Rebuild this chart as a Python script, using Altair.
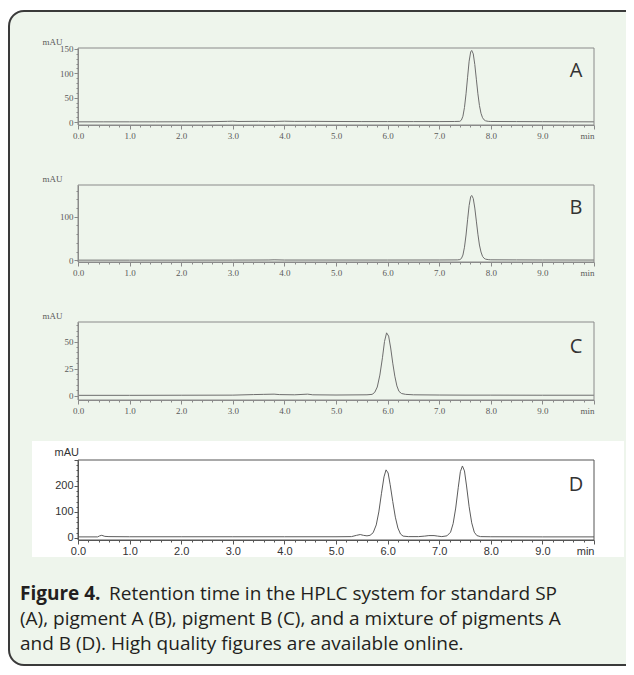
import altair as alt
import pandas as pd

# ---------------- data ----------------
A_T = [0.0, 0.5, 1.0, 1.5, 2.0, 2.5, 2.9, 3.0, 3.1, 3.5, 3.8, 4.0, 4.2, 4.5, 5.0, 5.5, 6.0, 6.5, 7.0, 7.3,
       7.40, 7.43, 7.46, 7.49, 7.52, 7.55, 7.58, 7.61, 7.63, 7.66, 7.69, 7.72, 7.75, 7.78, 7.81, 7.84, 7.87,
       7.90, 7.95, 8.0, 8.5, 9.0, 9.5, 10.0]
A_Y = [0.5, 0.5, 0.5, 0.5, 0.6, 0.7, 1.5, 1.8, 1.2, 1.5, 1.2, 1.8, 1.4, 1.5, 1.2, 1.0, 1.0, 1.0, 1.0, 1.2,
       1.5, 4, 12, 30, 58, 92, 125, 144, 147, 140, 118, 88, 58, 34, 18, 9, 4.5,
       2.5, 1.5, 1.2, 1.0, 0.8, 0.6, 0.5]

B_T = [0.0, 1.0, 2.0, 3.0, 3.7, 3.8, 4.0, 5.0, 6.0, 7.0, 7.35,
       7.40, 7.43, 7.46, 7.49, 7.52, 7.55, 7.58, 7.61, 7.63, 7.66, 7.69, 7.72, 7.75, 7.78, 7.81, 7.84, 7.87,
       7.90, 7.95, 8.0, 8.5, 9.0, 10.0]
B_Y = [0.3, 0.3, 0.3, 0.4, 0.6, 1.0, 0.5, 0.5, 0.5, 0.6, 0.8,
       1.5, 4, 12, 30, 58, 93, 126, 146, 149, 142, 120, 90, 60, 35, 19, 9, 4.5,
       2.5, 1.5, 1.0, 0.8, 0.6, 0.5]

C_T = [0.0, 1.0, 2.0, 3.0, 3.4, 3.6, 3.8, 3.9, 4.2, 4.45, 4.55, 5.0, 5.6,
       5.70, 5.75, 5.80, 5.85, 5.90, 5.94, 5.98, 6.02, 6.06, 6.10, 6.14, 6.18, 6.22, 6.27,
       6.35, 6.5, 7.0, 7.5, 8.0, 9.0, 10.0]
C_Y = [0.3, 0.3, 0.4, 0.5, 1.0, 1.2, 1.4, 1.0, 0.8, 1.4, 0.8, 0.6, 0.8,
       1.2, 3, 8, 19, 35, 50, 58, 55, 44, 30, 18, 9, 4, 2,
       1.2, 0.8, 0.6, 0.5, 0.5, 0.4, 0.4]

D_T = [0.0, 0.38, 0.42, 0.46, 0.52, 0.6, 1.0, 2.0, 3.0, 4.0, 5.0, 5.3, 5.40, 5.47, 5.53, 5.60, 5.66,
       5.72, 5.78, 5.83, 5.88, 5.93, 5.97, 6.01, 6.05, 6.10, 6.15, 6.20, 6.25, 6.30, 6.4, 6.6,
       6.72, 6.80, 6.90, 6.97, 7.05, 7.15, 7.22, 7.27, 7.32, 7.37, 7.41, 7.45, 7.49, 7.53, 7.58,
       7.63, 7.68, 7.73, 7.80, 8.0, 9.0, 10.0]
D_Y = [4, 4, 8, 10, 6, 5, 4.5, 4.5, 4.5, 4.5, 4.5, 5, 10, 13, 10, 8, 10,
       20, 50, 100, 170, 235, 262, 250, 205, 140, 80, 38, 15, 7, 5, 5,
       7, 9, 9, 7, 5, 8, 22, 55, 115, 195, 255, 277, 258, 200, 120,
       58, 22, 9, 5, 4.5, 4, 4]

X_TICKS = [round(i * 0.2, 1) for i in range(51)]
A_YTICKS = list(range(0, 151, 10))
B_YTICKS = list(range(0, 161, 20))
C_YTICKS = list(range(0, 66, 5))
D_YTICKS = list(range(0, 301, 20))

CAPTION_BOLD = "Figure 4."
CAPTION_1 = "Retention time in the HPLC system for standard SP"
CAPTION_2 = "(A), pigment A (B), pigment B (C), and a mixture of pigments A"
CAPTION_3 = "and B (D). High quality figures are available online."

W = 516
GREEN = "#eef5ec"
ONE = pd.DataFrame({"k": [0]})

MAJOR_X = "abs(datum.value - round(datum.value)) < 0.01"


def panel(t, v, ydom, yticks, ymajor, ylabmax, height, letter, sans=False, extra_before=None, extra_after=None):
    font = "Liberation Sans" if sans else "Liberation Serif"
    fsize = 11 if sans else 9
    lcol = "#333333" if sans else "#5a5a5a"
    acol = "#555555" if sans else "#8a8a8a"
    df = pd.DataFrame({"t": t, "v": v})
    xaxis = alt.Axis(
        values=X_TICKS, title=None, grid=False, zindex=1,
        labelExpr=MAJOR_X + " ? (datum.value >= 9.99 ? 'min' : format(datum.value, '.1f')) : ''",
        labelOverlap=False, labelFlush=False,
        labelAlign={"condition": {"test": "datum.value >= 9.99", "value": "right"}, "value": "center"},
        tickSize={"condition": {"test": MAJOR_X, "value": 4}, "value": 2},
        tickColor=acol, domainColor=acol, labelFont=font, labelFontSize=fsize, labelColor=lcol,
        labelPadding=2 if not sans else 1,
    )
    ytest = "datum.value % " + str(ymajor) + " == 0 && datum.value <= " + str(ylabmax)
    yaxis = alt.Axis(
        values=yticks, title="mAU", grid=False, zindex=1,
        labelExpr=ytest + " ? format(datum.value, 'd') : ''",
        labelOverlap=False, labelFlush=False,
        tickSize={"condition": {"test": "datum.value % " + str(ymajor) + " == 0", "value": 4}, "value": 2},
        tickColor=acol, domainColor=acol, labelFont=font, labelFontSize=fsize, labelColor=lcol,
        labelPadding=1,
        titleAngle=0, titleAlign="left", titleBaseline="middle",
        titleX=-36 if not sans else -24, titleY=-7 if not sans else -8,
        titleFont=font, titleFontSize=fsize, titleFontWeight="normal", titleColor=lcol,
    )
    line = alt.Chart(df).mark_line(color="#6e6e6e" if not sans else "#5c5c5c", strokeWidth=1.0, clip=True).encode(
        x=alt.X("t:Q", scale=alt.Scale(domain=[0, 10], nice=False, zero=False), axis=xaxis),
        y=alt.Y("v:Q", scale=alt.Scale(domain=ydom, nice=False, zero=False), axis=yaxis),
    )
    frame = alt.Chart(ONE).mark_rect(fill="transparent", stroke=acol, strokeWidth=1).encode(
        x=alt.value(0), x2=alt.value(W), y=alt.value(0), y2=alt.value(height)
    )
    lab = alt.Chart(ONE).mark_text(text=letter, font="Open Sans", fontSize=20, color="#333333",
                                   align="center", baseline="middle").encode(
        x=alt.value(498), y=alt.value(23 if letter in "AB" else 25)
    )
    layers = (extra_before or []) + [line, frame, lab] + (extra_after or [])
    return alt.layer(*layers).properties(width=W, height=height)


# decorations: rounded frame of the figure box (in panel A's coordinates)
outer = alt.Chart(ONE).mark_rect(fill="#3a3a3a", cornerRadiusTopLeft=16, cornerRadiusBottomLeft=16).encode(
    x=alt.value(-70), x2=alt.value(548), y=alt.value(-38), y2=alt.value(618)
)
inner = alt.Chart(ONE).mark_rect(fill=GREEN, cornerRadiusTopLeft=14, cornerRadiusBottomLeft=14).encode(
    x=alt.value(-68), x2=alt.value(548), y=alt.value(-36), y2=alt.value(616)
)
white_box = alt.Chart(ONE).mark_rect(fill="white").encode(
    x=alt.value(-46), x2=alt.value(546), y=alt.value(-19), y2=alt.value(97)
)

CAP_FONT = "Open Sans"
CAP_SIZE = 19
CAP_COL = "#231f20"


def cap(text, x, y, bold=False):
    return alt.Chart(ONE).mark_text(text=text, font=CAP_FONT, fontSize=CAP_SIZE,
                                    fontWeight="bold" if bold else "normal",
                                    color=CAP_COL, align="left", baseline="middle").encode(
        x=alt.value(x), y=alt.value(y))


captions = [
    cap(CAPTION_BOLD, -58, 134, bold=True),
    cap(CAPTION_1, 31, 134),
    cap(CAPTION_2, -58, 159),
    cap(CAPTION_3, -58, 184),
]

pA = panel(A_T, A_Y, [-6, 152], A_YTICKS, 50, 150, 77, "A", extra_before=[outer, inner])
pB = panel(B_T, B_Y, [-4, 173], B_YTICKS, 100, 100, 77, "B")
pC = panel(C_T, C_Y, [-4, 68], C_YTICKS, 25, 50, 78, "C")
pD = panel(D_T, D_Y, [-8, 300], D_YTICKS, 100, 200, 80, "D", sans=True,
           extra_before=[white_box], extra_after=captions)

chart = alt.vconcat(pA, pB, pC, pD, spacing=60, bounds="flush").properties(
    padding={"left": 0, "top": 2, "right": 0, "bottom": 0}
).configure(background="white").configure_view(stroke=None)

chart.save("out.html", embed_options={"renderer": "svg", "actions": False})
